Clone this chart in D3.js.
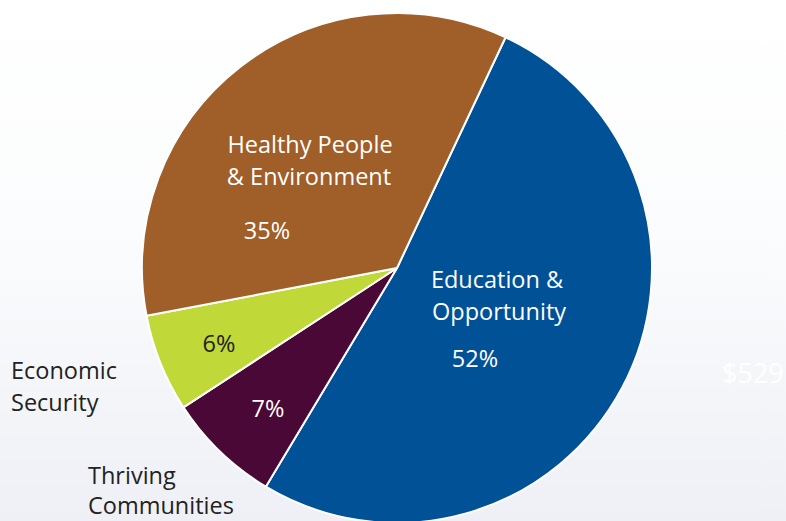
<!DOCTYPE html>
<html><head><meta charset="utf-8">
<script src="https://cdn.jsdelivr.net/npm/d3@7"></script>
<style>html,body{margin:0;padding:0;overflow:hidden;}</style>
</head><body>
<script>
const categories = ["Education & Opportunity", "Thriving Communities", "Economic Security", "Healthy People & Environment"];
const values = [51.6, 7.2, 6.2, 35.0];
const percentLabels = ["52%", "7%", "6%", "35%"];
const colors = ["#015196", "#4a0837", "#c0d838", "#a05e28"];

const W = 786, H = 521;
const svg = d3.select("body").append("svg").attr("width", W).attr("height", H);
const defs = svg.append("defs");
const grad = defs.append("linearGradient").attr("id", "bg").attr("x1", 0).attr("y1", 0).attr("x2", 0).attr("y2", 1);
grad.append("stop").attr("offset", "0").attr("stop-color", "#ffffff");
grad.append("stop").attr("offset", "0.45").attr("stop-color", "#fbfcfd");
grad.append("stop").attr("offset", "1").attr("stop-color", "#eef0f6");
svg.append("rect").attr("width", W).attr("height", H).attr("fill", "url(#bg)");

svg.append("text").attr("x", 722).attr("y", 383).attr("font-family", "Open Sans, sans-serif")
  .attr("font-size", 27).attr("fill", "#ffffff").text("$529");

const cx = 397, cy = 268, R = 255;
const startAngle = 25.2 * Math.PI / 180;
const pie = d3.pie().sort(null).value(d => d).startAngle(startAngle).endAngle(startAngle + 2 * Math.PI);
const arcs = pie(values);
const arc = d3.arc().innerRadius(0).outerRadius(R);
const g = svg.append("g").attr("transform", `translate(${cx},${cy})`);
g.selectAll("path").data(arcs).join("path")
  .attr("d", arc).attr("fill", (d, i) => colors[i])
  .attr("stroke", "#ffffff").attr("stroke-width", 2).attr("stroke-linejoin", "round");

const font = "Open Sans, sans-serif";
function txt(x, y, s, fill, anchor) {
  svg.append("text").attr("x", x).attr("y", y).attr("font-family", font).attr("font-size", 23.5)
    .attr("fill", fill).attr("text-anchor", anchor || "middle").text(s);
}
// inside labels
txt(310, 153, "Healthy People", "#fff");
txt(309, 185, "& Environment", "#fff");
txt(267, 239, percentLabels[3], "#fff");
txt(497, 288, "Education &", "#fff");
txt(499, 320, "Opportunity", "#fff");
txt(475, 367, percentLabels[0], "#fff");
txt(219, 352, percentLabels[2], "#222");
txt(268, 417, percentLabels[1], "#fff");
// outside labels
txt(11, 379, "Economic", "#222", "start");
txt(11, 411, "Security", "#222", "start");
txt(88, 484, "Thriving", "#222", "start");
txt(88, 514, "Communities", "#222", "start");
</script>
</body></html>
